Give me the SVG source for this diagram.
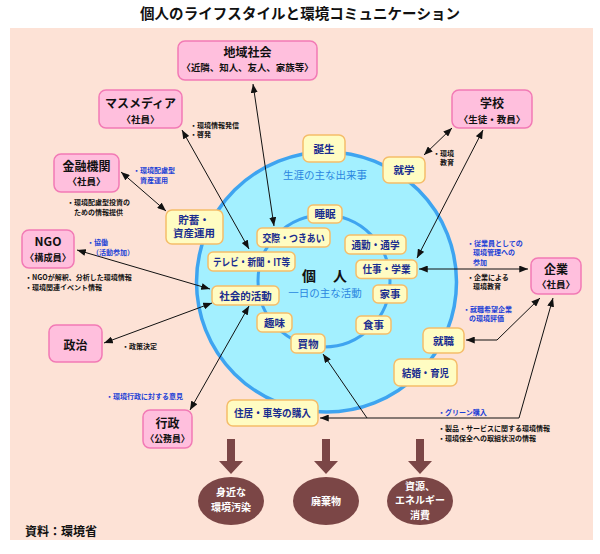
<svg xmlns="http://www.w3.org/2000/svg" width="600" height="554" viewBox="0 0 600 554">
<defs>
<style>
text{font-family:"Noto Sans CJK JP","Noto Sans",sans-serif}
.pink{fill:#ffbfdd;stroke:#f27ab5;stroke-width:1.5}
.yel{fill:#fffcc2;stroke:#f5bd6a;stroke-width:1.5}
.pl{font-size:12px;font-weight:bold;fill:#111;text-anchor:middle}
.ps{font-size:9.5px;font-weight:bold;fill:#111;text-anchor:middle}
.yl{font-size:10.5px;font-weight:bold;fill:#1a2d8f;text-anchor:middle}
.an{font-size:7px;font-weight:bold;fill:#111}
.ab{font-size:7px;font-weight:bold;fill:#1b3fd6}
.lb{font-size:10.5px;fill:#2a86e0;text-anchor:middle}
.conn{stroke:#111;stroke-width:1;fill:none}
.brown{fill:#7b4646}
.wt{font-size:10px;font-weight:bold;fill:#fff;text-anchor:middle}
</style>
<marker id="ah" viewBox="0 0 10 8" refX="10" refY="4" markerWidth="9" markerHeight="7" markerUnits="userSpaceOnUse" orient="auto-start-reverse">
<path d="M0,0 L10,4 L0,8 z" fill="#111"/>
</marker>
</defs>

<text x="300" y="19" style="font-size:14.5px;font-weight:bold;fill:#111;text-anchor:middle" textLength="320">個人のライフスタイルと環境コミュニケーション</text>

<rect x="10" y="28" width="583" height="512" fill="#fde2d6"/>

<g id="circles">
<circle cx="326.5" cy="282" r="130" fill="#a3f0ff" stroke="#3ea4f0" stroke-width="3.5"/>
<circle cx="324" cy="281" r="66" fill="none" stroke="#3ea4f0" stroke-width="3"/>
<text class="lb" x="325" y="179">生涯の主な出来事</text>
<text class="lb" x="325" y="297">一日の主な活動</text>
<text x="309" y="281" style="font-size:14px;font-weight:bold;fill:#111;text-anchor:middle">個</text>
<text x="340" y="281" style="font-size:14px;font-weight:bold;fill:#111;text-anchor:middle">人</text>
</g>

<g id="connectors">
<line class="conn" x1="253" y1="84" x2="274" y2="226" marker-start="url(#ah)" marker-end="url(#ah)"/>
<line class="conn" x1="182" y1="130" x2="249" y2="249" marker-start="url(#ah)" marker-end="url(#ah)"/>
<line class="conn" x1="452" y1="128" x2="424" y2="155" marker-start="url(#ah)" marker-end="url(#ah)"/>
<line class="conn" x1="483" y1="130" x2="417" y2="258" marker-start="url(#ah)" marker-end="url(#ah)"/>
<line class="conn" x1="121" y1="172" x2="166" y2="211" marker-start="url(#ah)" marker-end="url(#ah)"/>
<line class="conn" x1="77" y1="250" x2="210" y2="289" marker-start="url(#ah)" marker-end="url(#ah)"/>
<line class="conn" x1="104" y1="343" x2="212" y2="303" marker-start="url(#ah)" marker-end="url(#ah)"/>
<line class="conn" x1="190" y1="410" x2="249" y2="306" marker-start="url(#ah)" marker-end="url(#ah)"/>
<line class="conn" x1="419" y1="269" x2="528" y2="269" marker-start="url(#ah)" marker-end="url(#ah)"/>
<polyline class="conn" points="466,340 497,340 540,298" marker-start="url(#ah)" marker-end="url(#ah)"/>
<polyline class="conn" points="553,298 519,418 320,418" marker-start="url(#ah)" marker-end="url(#ah)"/>
<line class="conn" x1="367" y1="418" x2="323" y2="354" marker-end="url(#ah)"/>
<polygon class="brown" points="227,439 235,439 235,461 243,461 231,474 219,461 227,461"/>
<polygon class="brown" points="322,439 330,439 330,461 338,461 326,474 314,461 322,461"/>
<polygon class="brown" points="416,439 424,439 424,461 432,461 420,474 408,461 416,461"/>
</g>

<g id="chiiki"><rect class="pink" x="178" y="41" width="139" height="39" rx="7"/>
<text class="pl" x="247.5" y="56.5">地域社会</text>
<text class="ps" x="247.5" y="71" textLength="132" lengthAdjust="spacingAndGlyphs">〈近隣、知人、友人、家族等〉</text></g>
<g id="massmedia"><rect class="pink" x="99" y="90" width="83" height="38" rx="7"/>
<text class="pl" x="140.5" y="108">マスメディア</text>
<text class="ps" x="140.5" y="122.5">〈社員〉</text></g>
<g id="gakko"><rect class="pink" x="452" y="90" width="80" height="38" rx="7"/>
<text class="pl" x="492" y="108">学校</text>
<text class="ps" x="492" y="122.5">〈生徒・教員〉</text></g>
<g id="kinyu"><rect class="pink" x="54" y="154" width="65" height="38" rx="7"/>
<text class="pl" x="86.5" y="170.5">金融機関</text>
<text class="ps" x="86.5" y="185">〈社員〉</text></g>
<g id="ngo"><rect class="pink" x="22" y="230" width="52" height="38" rx="7"/>
<text class="pl" x="48" y="246">NGO</text>
<text class="ps" x="48" y="261" textLength="46" lengthAdjust="spacingAndGlyphs">〈構成員〉</text></g>
<g id="kigyo"><rect class="pink" x="531" y="258" width="50" height="36" rx="7"/>
<text class="pl" x="556" y="274">企業</text>
<text class="ps" x="556" y="288">〈社員〉</text></g>
<g id="seiji"><rect class="pink" x="49" y="325" width="53" height="37" rx="7"/>
<text class="pl" x="75.5" y="349.5">政治</text></g>
<g id="gyosei"><rect class="pink" x="143" y="410" width="49" height="38" rx="7"/>
<text class="pl" x="167.5" y="428">行政</text>
<text class="ps" x="167.5" y="442" textLength="44" lengthAdjust="spacingAndGlyphs">〈公務員〉</text></g>

<g id="tanjo"><rect class="yel" x="303" y="135" width="42" height="27" rx="6"/><text class="yl" x="324" y="152.5">誕生</text></g>
<g id="shugaku"><rect class="yel" x="383" y="157" width="42" height="26" rx="6"/><text class="yl" x="404" y="174">就学</text></g>
<g id="chochiku"><rect class="yel" x="166" y="210" width="57" height="34" rx="6"/><text class="yl" x="194" y="223.5">貯蓄・</text><text class="yl" x="194" y="237">資産運用</text></g>
<g id="suimin"><rect class="yel" x="308" y="205" width="34" height="18" rx="5"/><text class="yl" x="325" y="218">睡眠</text></g>
<g id="kosai"><rect class="yel" x="257" y="228" width="73" height="19" rx="5"/><text class="yl" x="293.5" y="241.5" textLength="62" lengthAdjust="spacingAndGlyphs">交際・つきあい</text></g>
<g id="tsukin"><rect class="yel" x="345" y="235" width="61" height="19" rx="5"/><text class="yl" x="375.5" y="248.5" textLength="48" lengthAdjust="spacingAndGlyphs">通勤・通学</text></g>
<g id="tv"><rect class="yel" x="208" y="252" width="87" height="19" rx="5"/><text class="yl" x="251.5" y="265.5" textLength="77" lengthAdjust="spacingAndGlyphs">テレビ・新聞・IT等</text></g>
<g id="shigoto"><rect class="yel" x="356" y="260" width="61" height="18.5" rx="5"/><text class="yl" x="386.5" y="273" textLength="48" lengthAdjust="spacingAndGlyphs">仕事・学業</text></g>
<g id="shakai"><rect class="yel" x="212" y="286" width="67" height="19" rx="5"/><text class="yl" x="245.5" y="299.5">社会的活動</text></g>
<g id="kaji"><rect class="yel" x="373" y="285" width="34" height="18" rx="5"/><text class="yl" x="390" y="298">家事</text></g>
<g id="shumi"><rect class="yel" x="257" y="313" width="35" height="19" rx="5"/><text class="yl" x="274.5" y="326.5">趣味</text></g>
<g id="shokuji"><rect class="yel" x="356" y="316" width="35" height="18" rx="5"/><text class="yl" x="373.5" y="329">食事</text></g>
<g id="kaimono"><rect class="yel" x="291" y="334" width="34" height="19" rx="5"/><text class="yl" x="308" y="347.5">買物</text></g>
<g id="shushoku"><rect class="yel" x="423" y="328" width="41" height="25" rx="6"/><text class="yl" x="443.5" y="344.5">就職</text></g>
<g id="kekkon"><rect class="yel" x="394" y="359" width="63" height="27" rx="6"/><text class="yl" x="425.5" y="376.5" textLength="47" lengthAdjust="spacingAndGlyphs">結婚・育児</text></g>
<g id="jukyo"><rect class="yel" x="227" y="400" width="91" height="26" rx="6"/><text class="yl" x="272.5" y="417" textLength="77" lengthAdjust="spacingAndGlyphs">住居・車等の購入</text></g>

<g id="impact1"><ellipse class="brown" cx="231" cy="501" rx="33" ry="24"/><text class="wt" x="231" y="496">身近な</text><text class="wt" x="231" y="510.5">環境汚染</text></g>
<g id="impact2"><ellipse class="brown" cx="326" cy="501" rx="33" ry="24"/><text class="wt" x="326" y="504.5">廃棄物</text></g>
<g id="impact3"><ellipse class="brown" cx="420" cy="501" rx="33" ry="24"/><text class="wt" x="420" y="489.5">資源、</text><text class="wt" x="420" y="504">エネルギー</text><text class="wt" x="420" y="518.5">消費</text></g>

<g id="annotations">
<text class="an" x="190" y="127.5">・環境情報発信</text>
<text class="an" x="190" y="137">・啓発</text>
<text class="an" x="433" y="155.5">・環境</text>
<text class="an" x="440" y="165">教育</text>
<text class="ab" x="133" y="173">・環境配慮型</text>
<text class="ab" x="140" y="182.5">資産運用</text>
<text class="an" x="67" y="204.5">・環境配慮型投資の</text>
<text class="an" x="74" y="214.5">ための情報提供</text>
<text class="ab" x="87" y="245">・協働</text>
<text class="ab" x="92" y="254.5">（活動参加）</text>
<text class="an" x="25" y="280">・NGOが解釈、分析した環境情報</text>
<text class="an" x="25" y="289.5">・環境関連イベント情報</text>
<text class="ab" x="467" y="245.5">・従業員としての</text>
<text class="ab" x="473" y="255">環境管理への</text>
<text class="ab" x="473" y="264.5">参加</text>
<text class="an" x="467" y="279.5">・企業による</text>
<text class="an" x="473" y="289">環境教育</text>
<text class="ab" x="463" y="311.5">・就職希望企業</text>
<text class="ab" x="469" y="321">の環境評価</text>
<text class="an" x="122" y="349">・政策決定</text>
<text class="ab" x="106" y="399">・環境行政に対する意見</text>
<text class="ab" x="438" y="415">・グリーン購入</text>
<text class="an" x="438" y="431">・製品・サービスに関する環境情報</text>
<text class="an" x="438" y="440.5">・環境保全への取組状況の情報</text>
</g>

<text x="25" y="536" style="font-size:12px;font-weight:bold;fill:#111">資料：環境省</text>
</svg>
